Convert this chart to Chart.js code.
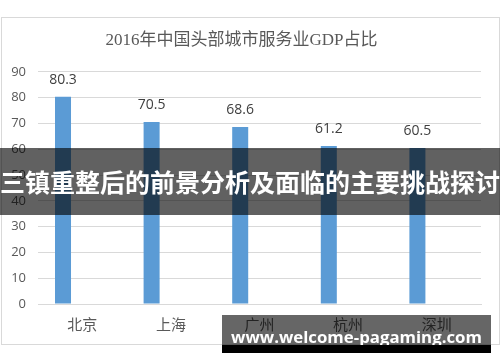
<!DOCTYPE html>
<html>
<head>
<meta charset="utf-8">
<script src="https://cdn.jsdelivr.net/npm/chart.js@4"></script>
<style>
  html, body { margin: 0; padding: 0; background: #fff; }
  body { width: 500px; height: 362px; position: relative; overflow: hidden; }
  #box { position: absolute; left: 1px; top: 17px; width: 497px; height: 326px; border: 1px solid #d9d9d9; }
  #band { position: absolute; left: 0; top: 148px; width: 500px; height: 67px; background: rgba(0,0,0,0.62);
          color: #fff; font: bold 25px "Noto Sans CJK SC", sans-serif; line-height: 67px; text-align: center; white-space: nowrap; }
  #mark { position: absolute; left: 222px; top: 315px; width: 269px; height: 30px; background: rgba(0,0,0,0.6);
          color: #fff; font: bold 16.8px "Open Sans", sans-serif; line-height: 44px; text-align: center; white-space: nowrap; }
  #markBottom { position: absolute; left: 222px; top: 345px; width: 269px; height: 8px; background: #000; }
</style>
</head>
<body>
<div id="box"><canvas id="chart"></canvas></div>
<div id="band">三镇重整后的前景分析及面临的主要挑战探讨</div>
<div id="mark">www.welcome-pagaming.com</div>
<div id="markBottom"></div>
<script>
// dados do gráfico
const cidades = ['北京', '上海', '广州', '杭州', '深圳'];
const percentuais = [80.3, 70.5, 68.6, 61.2, 60.5];
const serieVazia = [null, null, null, null, null];
const titulo = '2016年中国头部城市服务业GDP占比';

// rótulos de valor acima das barras
const rotulosValor = {
    id: 'rotulosValor',
    afterDatasetsDraw(chart) {
        const ctx = chart.ctx;
        const meta = chart.getDatasetMeta(0);
        ctx.save();
        ctx.font = '14px "Open Sans", "Noto Sans CJK SC", sans-serif';
        ctx.fillStyle = '#404040';
        ctx.textAlign = 'center';
        ctx.textBaseline = 'middle';
        meta.data.forEach((bar, i) => {
            ctx.fillText(percentuais[i].toFixed(1), bar.x, bar.y - 17);
        });
        ctx.restore();
    }
};

const ctx = document.getElementById('chart').getContext('2d');
new Chart(ctx, {
    type: 'bar',
    data: {
        labels: cidades,
        datasets: [
            {
                data: percentuais,
                backgroundColor: '#5b9bd5',
                barPercentage: 0.415,
                categoryPercentage: 0.871
            },
            {
                data: serieVazia,
                backgroundColor: '#ed7d31',
                barPercentage: 0.415,
                categoryPercentage: 0.871
            }
        ]
    },
    options: {
        responsive: true,
        maintainAspectRatio: false,
        animation: false,
        layout: { padding: { left: 0, right: 18, top: 0, bottom: 0 } },
        plugins: {
            legend: { display: false },
            tooltip: { enabled: false },
            title: {
                display: true,
                text: titulo,
                color: '#595959',
                font: { family: '"Liberation Serif", "Noto Sans CJK SC", serif', size: 17, weight: 'normal' },
                padding: { top: 12, bottom: 21.4 }
            }
        },
        scales: {
            x: {
                grid: { display: false, drawTicks: false },
                border: { display: true, color: '#d9d9d9' },
                ticks: {
                    color: '#595959',
                    padding: 11,
                    font: { family: '"Noto Sans CJK SC", sans-serif', size: 15 }
                },
                afterFit(scale) { scale.height = 40; }
            },
            y: {
                min: 0,
                max: 90,
                ticks: {
                    stepSize: 10,
                    color: '#595959',
                    padding: 12,
                    font: { family: '"Open Sans", sans-serif', size: 13 }
                },
                grid: { color: '#d9d9d9', drawTicks: false },
                border: { display: false },
                afterFit(scale) { scale.width = 36; }
            }
        }
    },
    plugins: [rotulosValor]
});
</script>
</body>
</html>
